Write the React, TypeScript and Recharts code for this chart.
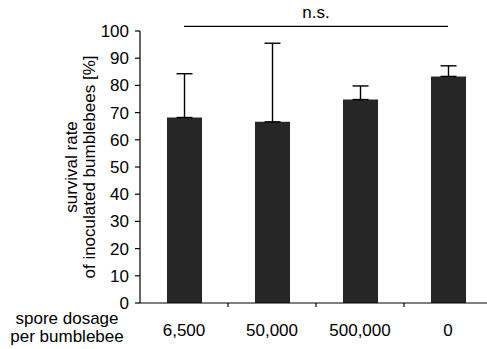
import { BarChart, Bar, XAxis, YAxis, ErrorBar, ReferenceLine, Label } from "recharts";

const dosages = ["6,500", "50,000", "500,000", "0"];
const survival = [68.2, 66.6, 74.8, 83.3];
const upperError = [16.1, 28.9, 5.0, 3.9];
const yTicks = [0, 10, 20, 30, 40, 50, 60, 70, 80, 90, 100];
const nsLevel = 101.7;

const data = dosages.map((d, i) => ({
  dosage: d,
  survival: survival[i],
  err: [0, upperError[i]],
}));

const FONT = "'Liberation Sans', Arial, sans-serif";
const FS = 17;

const YTitle = (props: any) => {
  const vb = props.viewBox;
  const cy = vb.y + vb.height / 2;
  const x1 = vb.x + 1;
  const x2 = vb.x + 19;
  return (
    <g fontFamily={FONT} fontSize={FS} fill="#000">
      <text x={x1} y={cy} textAnchor="middle" transform={`rotate(-90 ${x1} ${cy})`}>
        survival rate
      </text>
      <text x={x2} y={cy} textAnchor="middle" transform={`rotate(-90 ${x2} ${cy})`}>
        of inoculated bumblebees [%]
      </text>
    </g>
  );
};

const XTitle = (props: any) => {
  const vb = props.viewBox;
  const x = vb.x - 73;
  return (
    <g fontFamily={FONT} fontSize={FS} fill="#000">
      <text x={x} y={vb.y + 21} textAnchor="middle">spore dosage</text>
      <text x={x} y={vb.y + 39} textAnchor="middle">per bumblebee</text>
    </g>
  );
};

// category label at the band centre, tick mark at the boundary to the next band
const DosageTick = (props: any) => {
  const { x, y, payload, index } = props;
  const half = payload.offset || 0;
  const axisY = y - 21;
  return (
    <g>
      {index < dosages.length - 1 && (
        <line x1={x + half} x2={x + half} y1={axisY} y2={axisY + 4} stroke="#000" strokeWidth={1.2} />
      )}
      <text x={x} y={y} dy="0.71em" textAnchor="middle" fill="#000" fontSize={FS} fontFamily={FONT}>
        {payload.value}
      </text>
    </g>
  );
};

export default function App() {
  return (
    <div style={{ position: "absolute", left: 0, top: 0, width: 487, height: 349, overflow: "hidden", background: "#fff" }}>
      <BarChart
        width={492}
        height={349}
        data={data}
        margin={{ top: 31, right: 0, bottom: 0, left: 76 }}
        barSize={35}
        style={{ fontFamily: FONT }}
      >
        <XAxis
          dataKey="dosage"
          height={46}
          tickLine={false}
          tickSize={0}
          tickMargin={21}
          interval={0}
          axisLine={{ stroke: "#000", strokeWidth: 1.2 }}
          tick={DosageTick}
        >
          <Label content={XTitle} />
        </XAxis>
        <YAxis
          width={64}
          domain={[0, 100]}
          ticks={yTicks}
          interval={0}
          tickSize={5}
          tickMargin={6}
          axisLine={{ stroke: "#000", strokeWidth: 1.2 }}
          tickLine={{ stroke: "#000", strokeWidth: 1.2 }}
          tick={{ fill: "#000", fontSize: FS }}
        >
          <Label content={YTitle} />
        </YAxis>
        <Bar dataKey="survival" fill="#262626" isAnimationActive={false}>
          <ErrorBar dataKey="err" direction="y" width={8} stroke="#000" strokeWidth={1.4} />
        </Bar>
        <ReferenceLine
          segment={[
            { x: dosages[0], y: nsLevel },
            { x: dosages[dosages.length - 1], y: nsLevel },
          ]}
          ifOverflow="visible"
          stroke="#000"
          strokeWidth={1.3}
          label={{ value: "n.s.", position: "top", offset: 8, fill: "#000", fontSize: FS }}
        />
      </BarChart>
    </div>
  );
}
